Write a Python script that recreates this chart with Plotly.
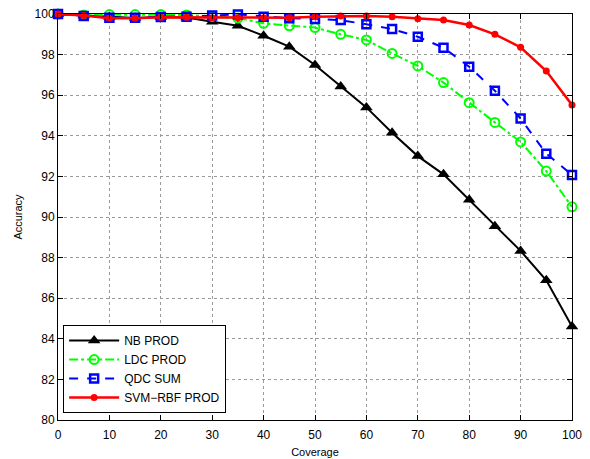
import plotly.graph_objects as go

coverage = [0, 5, 10, 15, 20, 25, 30, 35, 40, 45, 50, 55, 60, 65, 70, 75, 80, 85, 90, 95, 100]

nb_prod = [100.0, 99.93, 99.85, 99.8, 99.85, 99.83, 99.62, 99.42, 98.93, 98.39, 97.49, 96.43,
           95.4, 94.15, 93.0, 92.1, 90.85, 89.55, 88.33, 86.88, 84.6]
ldc_prod = [100.0, 99.95, 99.97, 99.97, 99.97, 99.95, 99.88, 99.8, 99.54, 99.42, 99.33, 99.0,
            98.72, 98.06, 97.44, 96.62, 95.63, 94.66, 93.7, 92.26, 90.5]
qdc_sum = [100.0, 99.9, 99.82, 99.82, 99.85, 99.87, 99.92, 99.98, 99.87, 99.79, 99.75, 99.7,
           99.49, 99.26, 98.88, 98.34, 97.4, 96.22, 94.85, 93.12, 92.07]
svm_prod = [100.0, 99.93, 99.79, 99.79, 99.84, 99.84, 99.82, 99.82, 99.82, 99.82, 99.87, 99.9,
            99.9, 99.87, 99.77, 99.7, 99.46, 99.0, 98.36, 97.19, 95.52]

x_ticks = [0, 10, 20, 30, 40, 50, 60, 70, 80, 90, 100]
y_ticks = [80, 82, 84, 86, 88, 90, 92, 94, 96, 98, 100]

fig = go.Figure()
fig.add_trace(go.Scatter(x=coverage, y=nb_prod, name="NB PROD", mode="lines+markers",
                         line=dict(color="black", width=2),
                         marker=dict(symbol="triangle-up", size=11, color="black"),
                         cliponaxis=False))
fig.add_trace(go.Scatter(x=coverage, y=ldc_prod, name="LDC PROD", mode="lines+markers",
                         line=dict(color="#00ff00", width=2, dash="dashdot"),
                         marker=dict(symbol="circle-open", size=9, color="#00ff00",
                                     line=dict(width=2, color="#00ff00")),
                         cliponaxis=False))
fig.add_trace(go.Scatter(x=coverage, y=qdc_sum, name="QDC SUM", mode="lines+markers",
                         line=dict(color="#0000ff", width=2, dash="dash"),
                         marker=dict(symbol="square-open", size=8, color="#0000ff",
                                     line=dict(width=2.5, color="#0000ff")),
                         cliponaxis=False))
fig.add_trace(go.Scatter(x=coverage, y=svm_prod, name="SVM\u2212RBF PROD", mode="lines+markers",
                         line=dict(color="#ff0000", width=2.5),
                         marker=dict(symbol="circle", size=7, color="#ff0000"),
                         cliponaxis=False))

axis_common = dict(showline=True, linecolor="black", linewidth=1, mirror="ticks",
                   ticks="inside", ticklen=5, tickcolor="black", automargin=False,
                   showgrid=True, gridcolor="#9a9a9a", griddash="dot", gridwidth=1,
                   zeroline=False, tickfont=dict(size=12, color="black"))

fig.update_xaxes(range=[0, 100], tickvals=x_ticks, ticklabelstandoff=4,
                 title=dict(text="Coverage", font=dict(size=11), standoff=6),
                 **axis_common)
fig.update_yaxes(range=[80, 100], tickvals=y_ticks,
                 title=dict(text="Accuracy", font=dict(size=11), standoff=9),
                 **axis_common)

fig.update_layout(
    width=590, height=459,
    margin=dict(l=58, r=18, t=14, b=39),
    paper_bgcolor="white", plot_bgcolor="white",
    font=dict(family="Liberation Sans, Arial, sans-serif", color="black"),
    legend=dict(x=0.01, y=0.017, xanchor="left", yanchor="bottom",
                bgcolor="white", bordercolor="black", borderwidth=1,
                font=dict(size=12), tracegroupgap=0, itemwidth=50),
    showlegend=True,
)

fig.write_html("out.html", config={"displayModeBar": False},
               post_script="document.body.style.margin='0';")
